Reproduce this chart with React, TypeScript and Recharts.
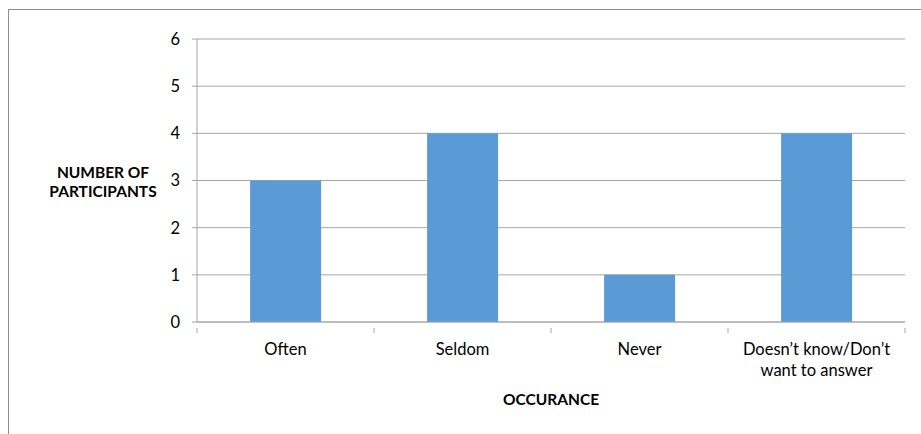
import { BarChart, Bar, XAxis, YAxis, CartesianGrid, Text } from 'recharts';

const categories = ['Often', 'Seldom', 'Never', 'Doesn\u2019t know/Don\u2019t want to answer'];
const participants = [3, 4, 1, 4];
const yTicks = [0, 1, 2, 3, 4, 5, 6];

const data = categories.map((c, i) => ({ category: c, value: participants[i] }));

const FONT = 'Lato, "Open Sans", sans-serif';
const GRID = '#a6a6a6';

// Excel-style tick marks sit between categories, so draw them at band edges
function CategoryTick(props: any) {
  const { x, y, payload, index, visibleTicksCount } = props;
  const half = payload.offset || 0;
  const top = y - 8;
  return (
    <g>
      <line x1={x - half} x2={x - half} y1={top} y2={top + 5} stroke={GRID} />
      {index === visibleTicksCount - 1 && (
        <line x1={x + half} x2={x + half} y1={top} y2={top + 5} stroke={GRID} />
      )}
      <Text
        x={x}
        y={y + 7}
        width={160}
        textAnchor="middle"
        verticalAnchor="start"
        lineHeight={21}
        fill="#000"
        fontSize={16.5}
        fontFamily={FONT}
      >
        {payload.value}
      </Text>
    </g>
  );
}

function YTitle(props: any) {
  const { viewBox } = props;
  const cx = 103;
  const cy = viewBox.y + viewBox.height / 2;
  return (
    <text textAnchor="middle" fontFamily={FONT} fontWeight="bold" fontSize={15.5} fill="#000">
      <tspan x={cx} y={cy - 3}>NUMBER OF</tspan>
      <tspan x={cx} y={cy + 16}>PARTICIPANTS</tspan>
    </text>
  );
}

export default function App() {
  return (
    <div style={{ position: 'absolute', left: 0, top: 0, width: 921, height: 434, overflow: 'hidden', background: '#fff' }}>
      <div
        style={{
          position: 'absolute',
          left: 8,
          top: 9,
          width: 1000,
          height: 1000,
          borderLeft: '1.5px solid #8c8c8c',
          borderTop: '1.5px solid #8c8c8c',
        }}
      />
      <BarChart
        width={921}
        height={434}
        data={data}
        margin={{ top: 39, right: 16, bottom: 26, left: 137 }}
        barCategoryGap="30%"
        style={{ position: 'absolute', left: 0, top: 0 }}
      >
        <CartesianGrid vertical={false} stroke={GRID} strokeWidth={1} />
        <XAxis
          dataKey="category"
          height={86}
          axisLine={{ stroke: GRID }}
          tickLine={false}
          tickMargin={8}
          tick={<CategoryTick />}
          interval={0}
          label={{
            value: 'OCCURANCE',
            position: 'insideBottom',
            offset: 3,
            fontFamily: FONT,
            fontWeight: 'bold',
            fontSize: 15.5,
            fill: '#000',
          }}
        />
        <YAxis
          domain={[0, 6]}
          ticks={yTicks}
          width={60}
          axisLine={{ stroke: GRID }}
          tickLine={{ stroke: GRID }}
          tickSize={5}
          tickMargin={12}
          tick={{ fill: '#000', fontSize: 16.5, fontFamily: FONT }}
          label={<YTitle />}
        />
        <Bar dataKey="value" fill="#5b9bd5" isAnimationActive={false} />
      </BarChart>
    </div>
  );
}
